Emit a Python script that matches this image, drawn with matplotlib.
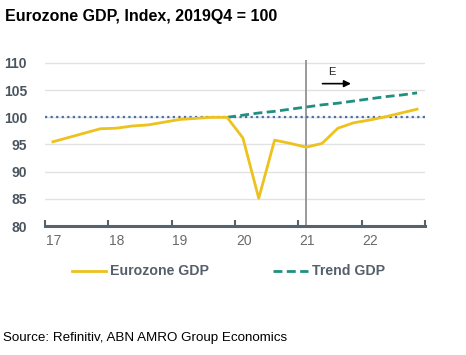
import matplotlib
matplotlib.use("Agg")
import matplotlib.pyplot as plt
from matplotlib.lines import Line2D

# Data: quarterly, 2017Q1 .. 2022Q4 (index 2019Q4 = 100)
quarters = ["2017Q1","2017Q2","2017Q3","2017Q4","2018Q1","2018Q2","2018Q3","2018Q4",
            "2019Q1","2019Q2","2019Q3","2019Q4","2020Q1","2020Q2","2020Q3","2020Q4",
            "2021Q1","2021Q2","2021Q3","2021Q4","2022Q1","2022Q2","2022Q3","2022Q4"]
eurozone_gdp = [95.5, 96.3, 97.1, 97.9, 98.0, 98.4, 98.6, 99.1,
                99.6, 99.8, 100.0, 100.0, 96.2, 85.1, 95.8, 95.2,
                94.5, 95.2, 98.0, 99.0, 99.5, 100.1, 100.8, 101.5]
trend_quarters = quarters[11:]
trend_gdp = [100.0, 100.4, 100.8, 101.1, 101.5, 101.9, 102.3, 102.6,
             103.0, 103.4, 103.8, 104.1, 104.5]
year_labels = ["17", "18", "19", "20", "21", "22"]
y_ticks = [80, 85, 90, 95, 100, 105, 110]

YELLOW = "#EDC21C"
TEAL = "#1F8F80"
BLUE = "#4A6FA5"
AXIS = "#56626C"

plt.rcParams['font.family'] = ['Liberation Sans', 'DejaVu Sans']

fig = plt.figure(figsize=(4.66, 3.55), dpi=100)
ax = fig.add_axes([45/466, 1 - 226/355, 380/466, (226-60)/355])

x_pos = [i + 0.5 for i in range(len(quarters))]
tx = [quarters.index(q) + 0.5 for q in trend_quarters]

ax.set_xlim(0, 24)
ax.set_ylim(80, 110 + 0.55)

for y in y_ticks[1:]:
    ax.axhline(y, color="#E2E2E2", lw=1.0, zorder=0)

ax.axhline(100, color=BLUE, lw=1.6, ls=(0, (1, 1.5)), zorder=2)
ax.axvline(quarters.index("2021Q1") + 0.5, ymin=0, ymax=1, color="#9A9A9A", lw=1.4, zorder=1)

ax.plot(tx, trend_gdp, color=TEAL, lw=2.0, ls=(0, (3.2, 1.6)), zorder=3)
ax.plot(x_pos, eurozone_gdp, color=YELLOW, lw=2.0, zorder=4)

# arrow + E
ax.annotate("", xy=(19.5, 106.2), xytext=(17.35, 106.2),
            arrowprops=dict(arrowstyle="-|>", color="black", lw=1.2, mutation_scale=10))
ax.text(18.1, 108.4, "E", ha="center", va="center", fontsize=8, color="#222222")

for s in ["top", "right", "left"]:
    ax.spines[s].set_visible(False)
ax.spines["bottom"].set_color(AXIS)
ax.spines["bottom"].set_linewidth(2.2)
ax.spines["bottom"].set_position(("data", 80))

ax.set_xticks(list(range(0, 25, 4)))
ax.set_xticklabels([""] * 7)
ax.tick_params(axis="x", direction="in", length=4, width=1.5, color=AXIS)
for i, lab in enumerate(year_labels):
    ax.text(i * 4 + 0.05, 78.5, lab, ha="left", va="top", fontsize=10, color="#6A6A6A")

ax.set_yticks(y_ticks)
ax.set_yticklabels([str(v) for v in y_ticks], fontsize=10, color="#4B5560", fontweight="bold")
ax.tick_params(axis="y", length=0, pad=13)

fig.text(5/466, 1 - 16/355, "Eurozone GDP, Index, 2019Q4 = 100", fontsize=11.5,
         fontweight="bold", va="center", ha="left", color="black")

# legend
fig.add_artist(Line2D([72/466, 106/466], [1 - 271/355]*2, color=YELLOW, lw=2.0))
fig.text(110/466, 1 - 271/355, "Eurozone GDP", fontsize=10.2, fontweight="bold",
         color="#56606A", va="center", ha="left")
fig.add_artist(Line2D([273/466, 308/466], [1 - 271/355]*2, color=TEAL, lw=2.0, ls=(0, (3.2, 1.6))))
fig.text(312/466, 1 - 271/355, "Trend GDP", fontsize=10.2, fontweight="bold",
         color="#56606A", va="center", ha="left")

fig.text(3/466, 1 - 338/355, "Source: Refinitiv, ABN AMRO Group Economics", fontsize=9.6,
         va="center", ha="left", color="black")

fig.savefig("out.png", dpi=100)
